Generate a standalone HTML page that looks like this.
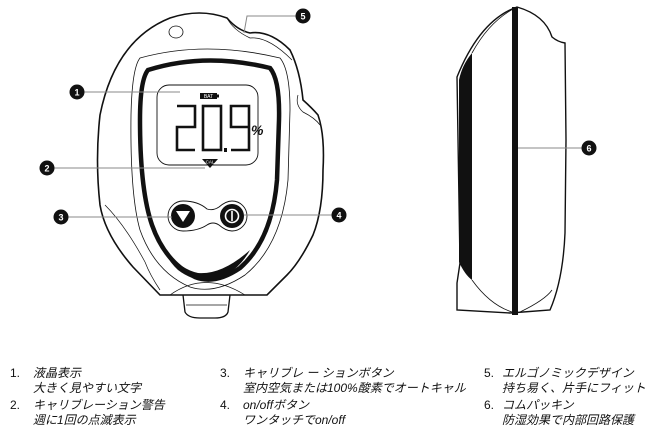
<!DOCTYPE html>
<html><head><meta charset="utf-8"><style>
body{margin:0;width:650px;height:442px;background:#fff;overflow:hidden;position:relative;font-family:"Liberation Sans","Noto Sans CJK JP",sans-serif;}
.t{position:absolute;font-size:12px;line-height:14px;color:#111;font-style:italic;white-space:nowrap;}
.n{position:absolute;font-size:12px;line-height:14px;color:#111;}
svg{position:absolute;left:0;top:0}
</style></head><body>
<svg width="650" height="350" viewBox="0 0 650 350">
<g fill="none" stroke="#111">
<path d="M160,295 L133,267 Q105,235 100,205 Q95,160 100,115 Q115,40 170,18 Q200,8 227,18 Q237,30 250,33 Q270,30 290,50 Q300,70 303,100 Q312,108 318,115 Q325,135 323,170 Q323,210 313,235 Q300,262 287,275 L267,295 Z" stroke-width="1.6" fill="#fff"/>
<path d="M183,295 L185,312 Q188,318 200,318 L215,318 Q226,318 228,312 L230,295" stroke-width="1.3"/>
<path d="M186,305 L227,305" stroke-width="0.8"/>
<path d="M170,295 Q205,270 245,295" stroke-width="0.7"/>
<path d="M105,205 Q125,225 145,262 Q150,275 160,290" stroke-width="0.7"/>
<path d="M227,18 Q233,30 250,38 Q268,36 292,60" stroke-width="0.7"/>
<path d="M298,95 Q295,105 303,112 Q315,118 320,125" stroke-width="0.7"/>
<ellipse cx="176" cy="32" rx="7" ry="6" stroke-width="0.8"/>
<path d="M140,58 Q205,40 280,58 Q290,70 290,110 L288,180 Q282,245 245,275 Q215,295 190,287 Q155,272 140,230 Q130,195 131,115 Q132,68 140,58 Z" stroke-width="0.8"/>
<path d="M148,70 Q205,52 270,68 Q280,80 279,120 L277,180 Q272,240 240,268 Q215,285 195,277 Q165,262 152,225 Q140,190 140,120 Q140,80 148,70 Z" stroke-width="4.5"/>
<rect x="157" y="85" width="101" height="80" rx="12" stroke-width="0.9"/>
<path d="M183,201 Q198,201 207,209 Q213,211 219,207 Q226,201 232,201 A15,15 0 0 1 232,231 Q226,231 219,225 Q213,221 207,225 Q198,231 183,231 A15,15 0 0 1 183,201 Z" stroke-width="0.9"/>
</g>
<path d="M160,240 Q175,268 198,273 Q222,275 250,250 Q238,272 215,280 Q195,283 178,270 Q165,258 160,240 Z" fill="#111"/>
<circle cx="183" cy="216" r="12" fill="#111"/>
<path d="M176,211 L190,211 L183,222 Z" fill="#fff"/>
<circle cx="232" cy="216" r="12" fill="#111"/>
<circle cx="232" cy="216" r="6.5" fill="none" stroke="#fff" stroke-width="1.6"/>
<line x1="232" y1="211" x2="232" y2="221" stroke="#fff" stroke-width="1.6"/>
<rect x="200" y="93" width="17" height="6" fill="#111"/><rect x="217" y="94.5" width="2" height="3" fill="#111"/>
<text x="208.5" y="98" font-size="5" fill="#fff" text-anchor="middle" font-family="Liberation Sans">BAT</text>
<path d="M202,159 L218,159 L210,168 Z" fill="#111"/>
<text x="210" y="163.5" font-size="4.5" fill="#fff" text-anchor="middle" font-family="Liberation Sans">CAL</text>
<g fill="none" stroke="#111" stroke-width="2.6" stroke-linecap="butt">
<!-- 2 -->
<polyline points="177,106 195,106 195,127 177,127 177,150 195,150"/>
<!-- 0 -->
<rect x="203" y="106" width="18" height="44"/>
<!-- 9 -->
<polyline points="249,127 231,127 231,106 249,106 249,150 231,150"/>
</g>
<rect x="224" y="148" width="3" height="4" fill="#111"/>
<text x="251" y="135" font-size="14" font-weight="bold" fill="#111" font-family="Liberation Sans" font-style="italic">%</text>
<g fill="none" stroke="#111" stroke-width="1.4">
<path d="M457,77 Q480,20 517,7 Q545,15 552,37 Q558,42 565,43 L566,140 L565,233 Q563,280 550,310 L510,313 L457,310 L457,283 L460,263 Z" fill="#fff"/>
</g>
<path d="M472,53 Q462,65 459,80 L459,262 Q465,275 472,280 Z" fill="#111"/>
<path d="M472,53 Q490,20 517,7" fill="none" stroke="#111" stroke-width="0.8"/>
<path d="M472,280 Q490,305 512,312" fill="none" stroke="#111" stroke-width="0.8"/>
<path d="M520,312 Q545,300 552,290" fill="none" stroke="#111" stroke-width="0.8"/>
<rect x="512" y="7" width="6" height="308" fill="#111"/>
<g stroke="#888" stroke-width="1">
<line x1="77" y1="92" x2="180" y2="92"/>
<line x1="47" y1="168" x2="205" y2="168"/>
<line x1="61" y1="217" x2="172" y2="217"/>
<line x1="244" y1="215" x2="339" y2="215"/>
<polyline points="244,33 247,16 303,16" fill="none"/>
<line x1="518" y1="148" x2="589" y2="148"/>
</g>
<g fill="#111">
<circle cx="77" cy="92" r="7.5"/><circle cx="47" cy="168" r="7.5"/><circle cx="61" cy="217" r="7.5"/>
<circle cx="339" cy="215" r="7.5"/><circle cx="303" cy="16" r="7.5"/><circle cx="589" cy="148" r="7.5"/>
</g>
<g fill="#fff" font-size="9" font-weight="bold" text-anchor="middle" font-family="Liberation Sans">
<text x="77" y="95.5">1</text><text x="47" y="171.5">2</text><text x="61" y="220.5">3</text>
<text x="339" y="218.5">4</text><text x="303" y="19.5">5</text><text x="589" y="151.5">6</text>
</g>
</svg>
<div class="n" style="left:10px;top:366px">1.</div><div class="t" style="left:33px;top:366px">液晶表示</div>
<div class="t" style="left:33px;top:381px">大きく見やすい文字</div>
<div class="n" style="left:10px;top:398px">2.</div><div class="t" style="left:33px;top:398px">キャリブレーション警告</div>
<div class="t" style="left:33px;top:413px">週に1回の点滅表示</div>
<div class="n" style="left:220px;top:366px">3.</div><div class="t" style="left:243px;top:366px">キャリブレ ー ションボタン</div>
<div class="t" style="left:243px;top:381px">室内空気または100%酸素でオートキャル</div>
<div class="n" style="left:220px;top:398px">4.</div><div class="t" style="left:243px;top:398px">on/offボタン</div>
<div class="t" style="left:243px;top:413px">ワンタッチでon/off</div>
<div class="n" style="left:484px;top:366px">5.</div><div class="t" style="left:502px;top:366px">エルゴノミックデザイン</div>
<div class="t" style="left:502px;top:381px">持ち易く、片手にフィット</div>
<div class="n" style="left:484px;top:398px">6.</div><div class="t" style="left:502px;top:398px">コムパッキン</div>
<div class="t" style="left:502px;top:413px">防湿効果で内部回路保護</div>
</body></html>
